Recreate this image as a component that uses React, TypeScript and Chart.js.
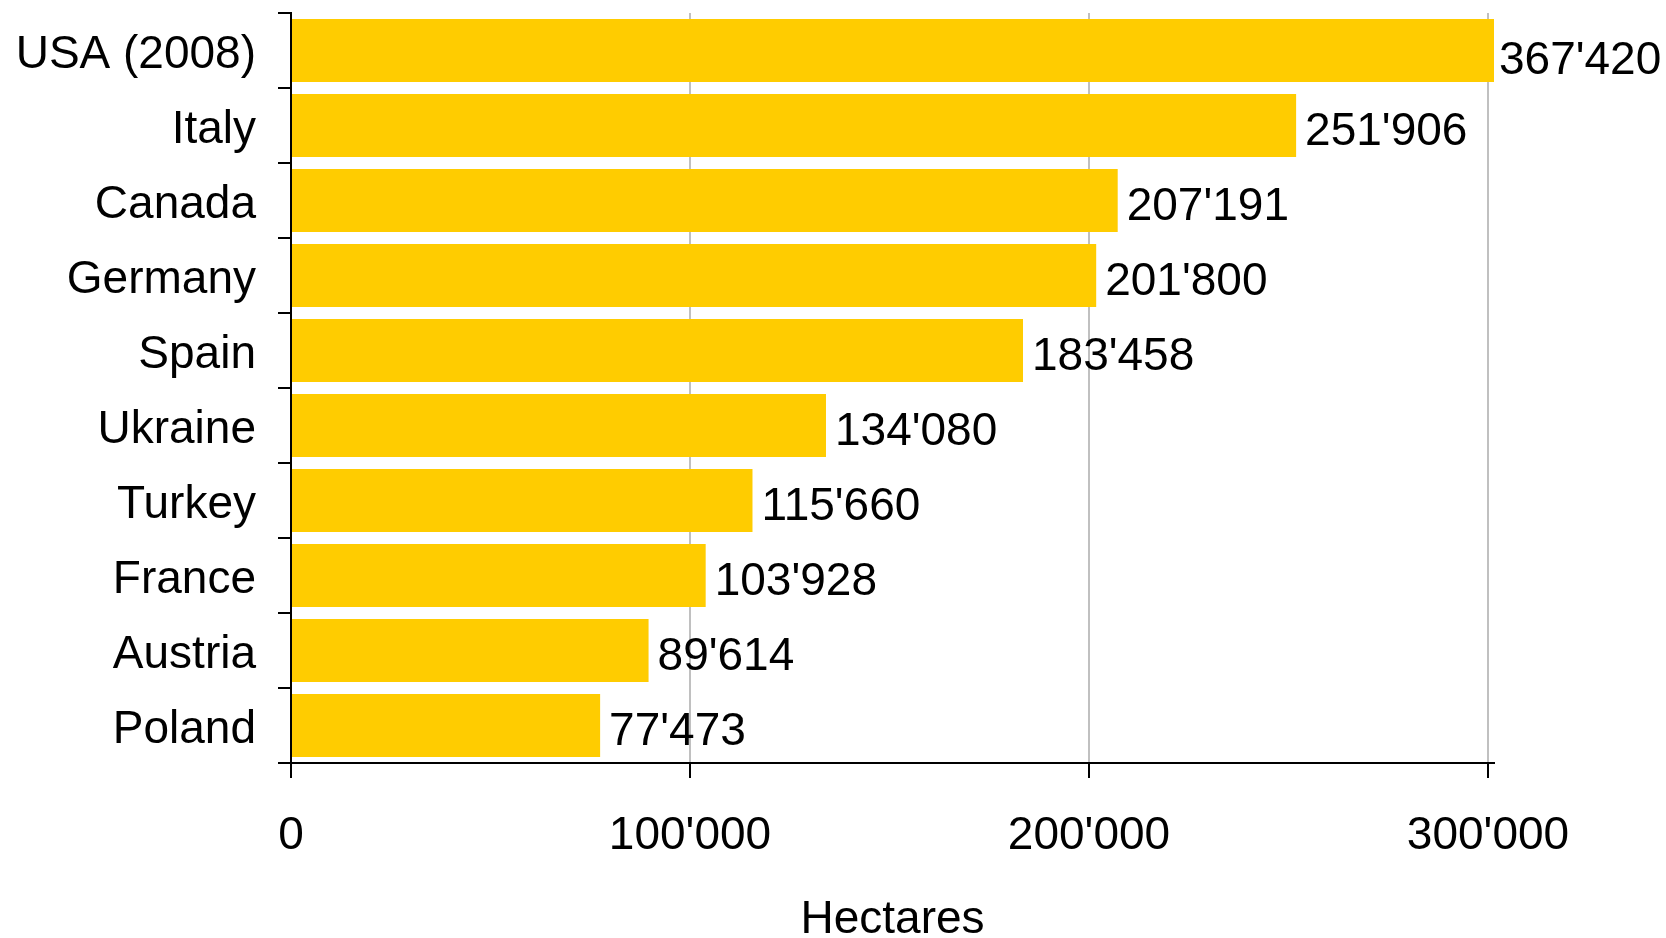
import React, { useEffect, useRef } from "react";
import { Chart, registerables } from "chart.js";

Chart.register(...registerables);

const categories = ["USA (2008)", "Italy", "Canada", "Germany", "Spain", "Ukraine", "Turkey", "France", "Austria", "Poland"];
const hectares = [367420, 251906, 207191, 201800, 183458, 134080, 115660, 103928, 89614, 77473];
const axisMax = 301500;
const axisTicks = [0, 100000, 200000, 300000];
const axisTitle = "Hectares";

const FONT = "'Liberation Sans', Arial, sans-serif";

function fmt(v: number): string {
  return Math.round(v).toString().replace(/\B(?=(\d{3})+(?!\d))/g, "'");
}

const valueLabels = {
  id: "valueLabels",
  afterDatasetsDraw(chart: any) {
    const ctx = chart.ctx;
    const meta = chart.getDatasetMeta(0);
    const area = chart.chartArea;
    ctx.save();
    ctx.font = `46px ${FONT}`;
    ctx.fillStyle = "#000";
    ctx.textAlign = "left";
    ctx.textBaseline = "middle";
    meta.data.forEach((bar: any, i: number) => {
      const v = chart.data.datasets[0].data[i];
      const clipped = bar.x > area.right;
      const end = Math.min(bar.x, area.right);
      ctx.fillText(fmt(v), end + (clipped ? 5 : 9), bar.y + (clipped ? 11 : 7));
    });
    ctx.restore();
  },
};

export default function App() {
  const ref = useRef<HTMLCanvasElement>(null);
  useEffect(() => {
    if (!ref.current) return;
    const chart = new Chart(ref.current, {
      type: "bar",
      data: {
        labels: categories,
        datasets: [
          {
            data: hectares,
            backgroundColor: "#FFCC00",
            borderWidth: 0,
            barPercentage: 0.84,
            categoryPercentage: 1,
            clip: 0 as any,
          },
        ],
      },
      options: {
        indexAxis: "y",
        responsive: false,
        animation: false,
        devicePixelRatio: 1,
        layout: { padding: { top: 13, right: 172, left: 0, bottom: 0 } },
        plugins: { legend: { display: false }, tooltip: { enabled: false } },
        scales: {
          x: {
            type: "linear",
            position: "bottom",
            min: 0,
            max: axisMax,
            afterBuildTicks: (s: any) => {
              s.ticks = axisTicks.map((v) => ({ value: v }));
            },
            afterFit: (s: any) => {
              s.height = 175;
              s.paddingLeft = 0;
              s.paddingRight = 0;
            },
            ticks: {
              maxRotation: 0,
              autoSkip: false,
              padding: 31,
              color: "#000",
              font: { family: FONT, size: 46 },
              callback: (v: any) => fmt(Number(v)),
            },
            grid: {
              color: (c: any) => (c.index === 0 ? "rgba(0,0,0,0)" : "#c0c0c0"),
              lineWidth: 2,
              tickColor: "#000",
              tickLength: 15,
              tickWidth: 2,
              drawOnChartArea: true,
              drawTicks: true,
            },
            border: { display: true, color: "#000", width: 2 },
            title: {
              display: true,
              text: axisTitle,
              color: "#000",
              font: { family: FONT, size: 46, lineHeight: 1 },
              padding: { top: 0, bottom: -5 },
            },
          },
          y: {
            type: "category",
            position: "left",
            afterFit: (s: any) => {
              s.width = 291;
              s.paddingTop = 0;
              s.paddingBottom = 0;
            },
            ticks: {
              padding: 22,
              labelOffset: 5,
              color: "#000",
              font: { family: FONT, size: 46 },
            },
            grid: {
              offset: true,
              drawOnChartArea: false,
              drawTicks: true,
              tickLength: 13,
              tickColor: "#000",
              tickWidth: 2,
              color: "#000",
              lineWidth: 2,
            },
            border: { display: true, color: "#000", width: 2 },
          },
        },
      },
      plugins: [valueLabels],
    });
    return () => chart.destroy();
  }, []);
  return (
    <div style={{ position: "absolute", left: 0, top: 0, width: 1666, height: 938, background: "#fff" }}>
      <canvas ref={ref} width={1666} height={938} style={{ display: "block" }} />
    </div>
  );
}
